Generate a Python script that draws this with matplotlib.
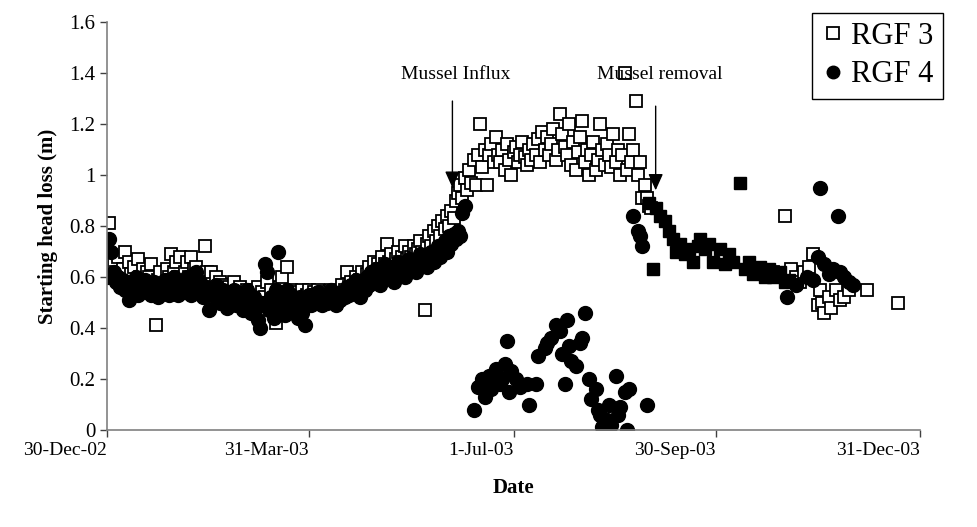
import matplotlib
matplotlib.use("Agg")
import matplotlib.pyplot as plt
import pandas as pd

plt.rcParams['font.family'] = ['Liberation Serif', 'DejaVu Serif']

start = pd.Timestamp('2002-12-30')

# RGF 3 (open squares): day offset from 30-Dec-02, head loss (m)
rgf3_day = [0,1,2,3,4,5,6,7,8,9,10,11,12,13,14,15,16,17,18,19,20,22,23,24,25,27,28,29,30,31,32,33,34,35,36,37,38,39,40,41,42,44,45,46,47,48,49,50,51,52,53,54,55,56,57,58,59,60,61,62,63,64,65,66,67,68,69,70,71,72,73,74,75,76,77,78,79,80,81,82,83,84,85,86,87,88,89,90,91,92,93,94,95,96,97,98,99,100,101,102,103,104,105,106,107,108,109,110,111,112,113,114,115,116,117,118,119,120,121,122,123,124,125,126,127,128,129,130,131,132,133,134,135,136,137,138,139,140,141,142,143,144,145,146,147,148,149,150,151,152,153,154,155,156,157,158,159,160,161,162,163,164,165,166,167,168,169,170,171,172,173,174,175,176,177,178,179,180,181,182,183,184,185,186,187,188,189,190,191,192,193,194,195,196,197,198,199,200,201,202,203,204,205,206,207,208,209,210,211,212,213,214,215,216,217,218,219,220,221,222,223,224,225,226,227,228,229,230,231,232,233,234,235,236,237,238,239,240,241,242,243,244,245,
            300,305,308,310,312,314,316,318,320,321,322,323,325,326,328,330,332,334,342,356]
rgf3_val = [0.70,0.81,0.67,0.65,0.62,0.68,0.60,0.63,0.70,0.58,0.66,0.61,0.64,0.57,0.67,0.60,0.63,0.58,0.62,0.60,0.65,0.41,0.59,0.62,0.57,0.63,0.60,0.69,0.62,0.66,0.60,0.68,0.58,0.62,0.66,0.60,0.68,0.63,0.64,0.57,0.60,0.72,0.62,0.58,0.62,0.56,0.60,0.55,0.58,0.54,0.57,0.53,0.56,0.52,0.58,0.54,0.51,0.56,0.53,0.50,0.55,0.52,0.55,0.49,0.53,0.56,0.50,0.54,0.52,0.58,0.50,0.55,0.47,0.42,0.52,0.56,0.60,0.53,0.64,0.50,0.55,0.52,0.49,0.54,0.51,0.55,0.50,0.53,0.55,0.52,0.54,0.51,0.55,0.52,0.50,0.54,0.52,0.51,0.55,0.53,0.50,0.54,0.52,0.57,0.55,0.62,0.56,0.58,0.55,0.60,0.57,0.59,0.62,0.58,0.61,0.64,0.60,0.66,0.62,0.65,0.63,0.68,0.65,0.73,0.66,0.69,0.64,0.67,0.70,0.66,0.68,0.72,0.67,0.70,0.68,0.72,0.69,0.71,0.74,0.70,0.47,0.73,0.76,0.72,0.78,0.74,0.80,0.76,0.82,0.79,0.84,0.80,0.86,0.83,0.90,0.93,0.96,0.91,0.99,0.94,1.02,0.97,1.06,0.96,1.08,1.20,1.03,1.10,0.96,1.08,1.12,1.05,1.15,1.08,1.05,1.10,1.02,1.12,1.06,1.00,1.09,1.11,1.05,1.08,1.13,1.07,1.04,1.10,1.06,1.12,1.08,1.14,1.05,1.17,1.10,1.15,1.08,1.12,1.18,1.06,1.10,1.24,1.16,1.11,1.08,1.20,1.04,1.13,1.02,1.09,1.15,1.21,1.05,1.10,1.00,1.08,1.13,1.02,1.06,1.20,1.10,1.04,1.12,1.08,1.03,1.16,1.05,1.10,1.00,1.08,1.40,1.02,1.16,1.05,1.10,1.29,1.00,1.05,0.91,0.96,0.91,0.88,0.87,
            0.62,0.84,0.63,0.60,0.58,0.62,0.64,0.69,0.49,0.55,0.50,0.46,0.52,0.48,0.55,0.51,0.52,0.55,0.55,0.50]

# RGF 4 (filled circles)
rgf4_day = [0,1,2,3,4,5,6,7,8,9,10,11,12,13,14,15,16,17,18,19,20,21,22,23,24,25,26,27,28,29,30,31,32,33,34,35,36,37,38,39,40,41,42,43,44,45,46,47,48,49,50,51,52,53,54,55,56,57,58,59,60,61,62,63,64,65,66,67,68,69,70,71,72,73,74,75,76,77,78,79,80,81,82,83,84,85,86,87,88,89,90,91,92,93,94,95,96,97,98,99,100,101,102,103,104,105,106,107,108,109,110,111,112,113,114,115,116,117,118,119,120,121,122,123,124,125,126,127,128,129,130,131,132,133,134,135,136,137,138,139,140,141,142,143,144,145,146,147,148,149,150,151,152,153,154,155,156,157,158,159,160,161,
            165,167,169,170,172,173,175,177,178,179,180,181,182,184,186,189,190,193,194,197,198,200,202,204,205,206,207,208,209,211,213,214,215,217,218,220,221,222,223,225,226,227,229,230,231,233,234,235,243,
            237,239,240,241,
            306,310,315,318,320,321,323,325,327,329,330,332,334,336]
rgf4_val = [0.60,0.75,0.70,0.62,0.58,0.60,0.56,0.59,0.55,0.57,0.51,0.58,0.55,0.60,0.53,0.57,0.55,0.59,0.54,0.56,0.53,0.58,0.55,0.52,0.56,0.54,0.59,0.55,0.53,0.57,0.60,0.55,0.53,0.58,0.56,0.54,0.60,0.57,0.53,0.56,0.62,0.55,0.58,0.52,0.56,0.54,0.47,0.55,0.52,0.57,0.54,0.50,0.55,0.52,0.48,0.53,0.51,0.55,0.49,0.53,0.50,0.47,0.52,0.55,0.50,0.46,0.52,0.48,0.43,0.40,0.50,0.65,0.62,0.47,0.52,0.44,0.55,0.70,0.48,0.52,0.45,0.55,0.48,0.53,0.47,0.50,0.44,0.52,0.46,0.41,0.50,0.53,0.49,0.52,0.50,0.54,0.51,0.49,0.53,0.50,0.52,0.55,0.51,0.49,0.53,0.51,0.54,0.52,0.56,0.53,0.57,0.55,0.59,0.56,0.52,0.58,0.55,0.60,0.57,0.62,0.59,0.63,0.60,0.57,0.62,0.65,0.61,0.64,0.60,0.58,0.63,0.66,0.62,0.65,0.60,0.64,0.67,0.63,0.66,0.62,0.65,0.69,0.65,0.68,0.64,0.67,0.70,0.66,0.69,0.72,0.68,0.71,0.74,0.70,0.76,0.73,0.77,0.75,0.78,0.76,0.85,0.88,
            0.08,0.17,0.20,0.13,0.21,0.16,0.24,0.18,0.20,0.26,0.35,0.15,0.23,0.20,0.17,0.18,0.10,0.18,0.29,0.32,0.34,0.36,0.41,0.39,0.30,0.18,0.43,0.33,0.27,0.25,0.34,0.36,0.46,0.20,0.12,0.16,0.08,0.06,0.01,0.04,0.10,0.02,0.21,0.06,0.09,0.15,0.00,0.16,0.10,
            0.84,0.78,0.76,0.72,
            0.52,0.57,0.60,0.59,0.68,0.95,0.65,0.61,0.63,0.84,0.62,0.60,0.58,0.57]

# Unlabelled filled-square points after mussel removal
rgf3b_day = [244,246,247,249,251,253,255,256,258,260,262,264,266,267,269,271,273,276,278,280,282,285,287,289,291,294,296,298,300,303,305,307]
rgf3b_val = [0.89,0.63,0.87,0.84,0.82,0.78,0.75,0.70,0.73,0.69,0.71,0.66,0.72,0.75,0.71,0.73,0.66,0.71,0.65,0.69,0.66,0.97,0.63,0.66,0.61,0.64,0.60,0.63,0.60,0.62,0.58,0.59]

tick_days = [0, 91, 183, 274, 366]
tick_labels = ['30-Dec-02', '31-Mar-03', '1-Jul-03', '30-Sep-03', '31-Dec-03']

def to_dates(days):
    return [start + pd.Timedelta(days=d) for d in days]

fig = plt.figure(figsize=(9.78, 5.27), dpi=100)
ax = fig.add_axes([107/978, 1-430/527, (920-107)/978, (430-22)/527])

ax.plot(to_dates(rgf3_day), rgf3_val, linestyle='none', marker='s', markersize=9,
        markerfacecolor='white', markeredgecolor='black', markeredgewidth=1.3, label='RGF 3')
ax.plot(to_dates(rgf3b_day), rgf3b_val, linestyle='none', marker='s', markersize=9,
        markerfacecolor='black', markeredgecolor='black', label='_nolegend_')
ax.plot(to_dates(rgf4_day), rgf4_val, linestyle='none', marker='o', markersize=10,
        markerfacecolor='black', markeredgecolor='black', label='RGF 4')

ax.set_xlim(start, start + pd.Timedelta(days=366))
ax.set_ylim(0, 1.6)
ax.set_yticks([0, 0.2, 0.4, 0.6, 0.8, 1.0, 1.2, 1.4, 1.6])
ax.set_yticklabels(['0', '0.2', '0.4', '0.6', '0.8', '1', '1.2', '1.4', '1.6'])
ax.set_xticks(to_dates(tick_days))
ax.set_xticklabels(tick_labels, ha='right')

for s in ['top', 'right']:
    ax.spines[s].set_visible(False)
for s in ['left', 'bottom']:
    ax.spines[s].set_color('#808080')
    ax.spines[s].set_linewidth(1.2)
ax.tick_params(axis='both', colors='black', labelsize=15, length=5, width=1, direction='out')
ax.tick_params(axis='x', labelsize=14)
ax.tick_params(axis='both', color='#404040')

ax.set_xlabel('Date', fontsize=15, fontweight='bold', labelpad=14)
ax.set_ylabel('Starting head loss (m)', fontsize=15, fontweight='bold', labelpad=8)

arrow = dict(arrowstyle='-|>,head_length=1.0,head_width=0.45', color='black', lw=1, shrinkA=0, shrinkB=0)
ax.annotate('', xy=(start + pd.Timedelta(days=155.5), 0.95), xytext=(start + pd.Timedelta(days=155.5), 1.29),
            arrowprops=arrow)
ax.text(start + pd.Timedelta(days=157), 1.36, 'Mussel Influx', ha='center', va='bottom', fontsize=14)
ax.annotate('', xy=(start + pd.Timedelta(days=247), 0.94), xytext=(start + pd.Timedelta(days=247), 1.27),
            arrowprops=arrow)
ax.text(start + pd.Timedelta(days=249), 1.36, 'Mussel removal', ha='center', va='bottom', fontsize=14)

leg = ax.legend(loc='upper right', bbox_to_anchor=(943/978, 1-13/527), bbox_transform=fig.transFigure,
                borderaxespad=0, fancybox=False, framealpha=1, edgecolor='black', fontsize=22,
                handletextpad=0.2, handlelength=0.8, markerscale=0.9, labelspacing=0.3,
                borderpad=0.3)
leg.get_frame().set_linewidth(1.0)

fig.savefig('out.png', dpi=100)
